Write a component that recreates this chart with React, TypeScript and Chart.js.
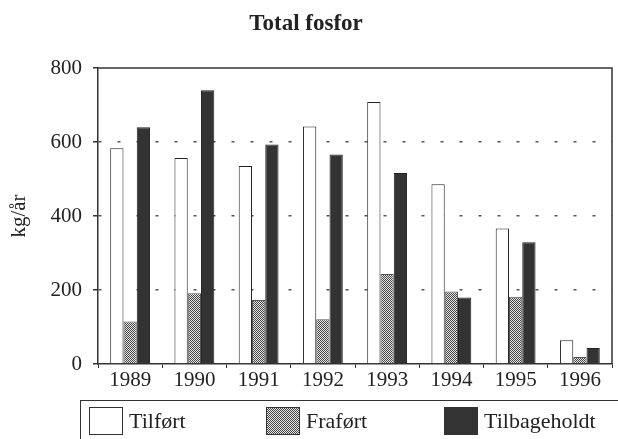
import React, { useEffect, useRef } from "react";
import { Chart, registerables } from "chart.js";

Chart.register(...registerables);

const years = ["1989", "1990", "1991", "1992", "1993", "1994", "1995", "1996"];
const tilfort = [583, 557, 535, 642, 708, 486, 366, 64];
const frafort = [115, 191, 173, 121, 243, 196, 182, 19];
const tilbageholdt = [640, 740, 593, 566, 516, 180, 329, 43];
const seriesNames = ["Tilført", "Fraført", "Tilbageholdt"];
const titleText = "Total fosfor";
const yAxisLabel = "kg/år";
const yMin = 0;
const yMax = 800;
const yStep = 200;

const FONT = "'Liberation Serif', 'Times New Roman', serif";
const INK = "#222";

function makePattern(): CanvasPattern | string {
  const c = document.createElement("canvas");
  c.width = 2;
  c.height = 2;
  const g = c.getContext("2d");
  if (!g) return "#888";
  g.fillStyle = "#e8e8e8";
  g.fillRect(0, 0, 2, 2);
  g.fillStyle = "#444";
  g.fillRect(0, 0, 1, 1);
  g.fillRect(1, 1, 1, 1);
  const p = g.createPattern(c, "repeat");
  return p || "#888";
}

const framePlugin = {
  id: "frame",
  afterDraw(chart: any) {
    const { ctx, chartArea } = chart;
    ctx.save();
    ctx.strokeStyle = "#333";
    ctx.lineWidth = 1.5;
    ctx.beginPath();
    ctx.moveTo(chartArea.left, chartArea.top);
    ctx.lineTo(chartArea.right, chartArea.top);
    ctx.lineTo(chartArea.right, chartArea.bottom);
    ctx.stroke();
    ctx.restore();
  },
};

const swatchStyles: React.CSSProperties[] = [
  { background: "#fff" },
  {
    backgroundImage:
      "conic-gradient(#444 25%, #e8e8e8 0 50%, #444 0 75%, #e8e8e8 0)",
    backgroundSize: "2px 2px",
  },
  { background: "#333" },
];
const swatchLefts = [8, 185, 363];

export default function App() {
  const canvasRef = useRef<HTMLCanvasElement | null>(null);

  useEffect(() => {
    const canvas = canvasRef.current;
    if (!canvas) return;
    const pattern = makePattern();
    const chart = new Chart(canvas, {
      type: "bar",
      data: {
        labels: years,
        datasets: [
          {
            label: seriesNames[0],
            data: tilfort,
            backgroundColor: "#fff",
            borderColor: "#222",
            borderWidth: 1,
          },
          {
            label: seriesNames[1],
            data: frafort,
            backgroundColor: pattern as any,
            borderColor: "#555",
            borderWidth: 1,
          },
          {
            label: seriesNames[2],
            data: tilbageholdt,
            backgroundColor: "#333",
            borderColor: "#222",
            borderWidth: 1,
          },
        ],
      },
      options: {
        responsive: false,
        animation: false,
        events: [],
        layout: { padding: { left: 0, right: 6, top: 0, bottom: 45 } },
        datasets: {
          bar: { categoryPercentage: 0.62, barPercentage: 1.0 },
        } as any,
        plugins: {
          legend: { display: false },
          tooltip: { enabled: false },
          title: {
            display: true,
            text: titleText,
            color: INK,
            font: { family: FONT, size: 23, weight: "bold" },
            padding: { top: 10, bottom: 30.4 },
          },
        },
        scales: {
          x: {
            type: "category",
            grid: {
              offset: true,
              drawOnChartArea: false,
              drawTicks: true,
              tickLength: 4,
              color: "#333",
              tickColor: "#333",
            },
            border: { display: true, color: "#333", width: 1.5 },
            ticks: {
              color: INK,
              font: { family: FONT, size: 21 },
              padding: 0,
              maxRotation: 0,
              autoSkip: false,
            },
            afterFit(scale: any) {
              scale.height = 30;
            },
          },
          y: {
            min: yMin,
            max: yMax,
            ticks: {
              stepSize: yStep,
              color: INK,
              font: { family: FONT, size: 21 },
              padding: 11,
            },
            grid: {
              color: (c: any) =>
                c.tick && (c.tick.value === yMin || c.tick.value === yMax)
                  ? "rgba(0,0,0,0)"
                  : "#555",
              lineWidth: 1.5,
              tickColor: "#333",
              tickLength: 5,
              tickBorderDash: [],
            },
            border: { display: true, color: "#333", width: 1.5, dash: [3, 16] },
            title: {
              display: true,
              text: yAxisLabel,
              color: INK,
              font: { family: FONT, size: 21 },
              padding: { top: 7, bottom: 0 },
            },
            afterFit(scale: any) {
              scale.width = 98;
            },
          },
        },
      },
      plugins: [framePlugin],
    });
    return () => chart.destroy();
  }, []);

  return (
    <div
      style={{
        position: "absolute",
        left: 0,
        top: 0,
        width: 618,
        height: 439,
        overflow: "hidden",
        background: "#fff",
      }}
    >
      <canvas ref={canvasRef} width={618} height={439} />
      <div
        style={{
          position: "absolute",
          left: 80,
          top: 400,
          width: 560,
          height: 60,
          border: "1.5px solid #333",
          boxSizing: "border-box",
        }}
      >
        {seriesNames.map((name, i) => (
          <React.Fragment key={name}>
            <div
              style={{
                position: "absolute",
                left: swatchLefts[i],
                top: 6,
                width: 34,
                height: 28,
                boxSizing: "border-box",
                border: "1px solid #333",
                ...swatchStyles[i],
              }}
            />
            <div
              style={{
                position: "absolute",
                left: swatchLefts[i] + 40,
                top: 6,
                height: 28,
                lineHeight: "28px",
                fontFamily: FONT,
                fontSize: 22,
                color: INK,
                whiteSpace: "nowrap",
              }}
            >
              {name}
            </div>
          </React.Fragment>
        ))}
      </div>
    </div>
  );
}
